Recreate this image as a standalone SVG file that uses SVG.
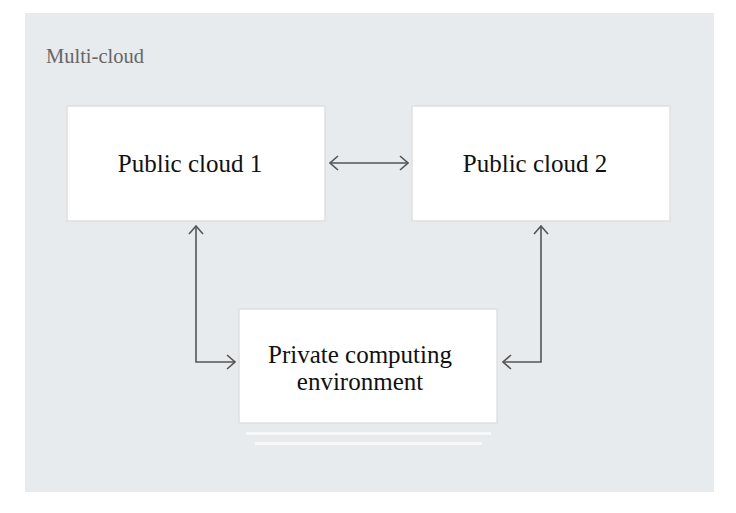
<svg xmlns="http://www.w3.org/2000/svg" width="736" height="513" viewBox="0 0 736 513">
<style>
.node rect{fill:#ffffff;stroke:#e0e0e0;stroke-width:1.5}
.lbl{font-family:"Liberation Serif","Times New Roman",serif;font-size:25px;fill:#111;text-anchor:middle}
.conn{fill:none;stroke:#555;stroke-width:1.6}
</style>
<defs>
<marker id="ah" viewBox="0 0 10 16" refX="9" refY="8" markerWidth="10" markerHeight="16" markerUnits="userSpaceOnUse" orient="auto-start-reverse">
<path d="M1,1 L9,8 L1,15" fill="none" stroke="#555" stroke-width="1.6"/>
</marker>
</defs>
<rect x="0" y="0" width="736" height="513" fill="#ffffff"/>
<g id="multi-cloud">
<rect x="25" y="13" width="689" height="479" fill="#e8ebee"/>
<text x="46" y="63" font-family="'Liberation Serif','Times New Roman',serif" font-size="20.5" fill="#666">Multi-cloud</text>
</g>
<g id="public-cloud-1" class="node">
<rect x="67" y="106" width="258" height="115"/>
<text class="lbl" x="190" y="172">Public cloud 1</text>
</g>
<g id="public-cloud-2" class="node">
<rect x="412" y="106" width="258" height="115"/>
<text class="lbl" x="535" y="172">Public cloud 2</text>
</g>
<g id="private" class="node">
<rect x="239" y="309" width="258" height="114"/>
<text class="lbl" x="360" y="363">Private computing</text>
<text class="lbl" x="360" y="390">environment</text>
</g>
<g id="stack-lines">
<rect x="246" y="432" width="245" height="3" fill="#f7f8f9"/>
<rect x="255" y="442" width="227" height="3" fill="#f7f8f9"/>
</g>
<g id="connectors">
<path class="conn" d="M330,163 L408,163" marker-start="url(#ah)" marker-end="url(#ah)"/>
<path class="conn" d="M196,226 L196,362 L235,362" marker-start="url(#ah)" marker-end="url(#ah)"/>
<path class="conn" d="M541,226 L541,362 L503,362" marker-start="url(#ah)" marker-end="url(#ah)"/>
</g>
</svg>
